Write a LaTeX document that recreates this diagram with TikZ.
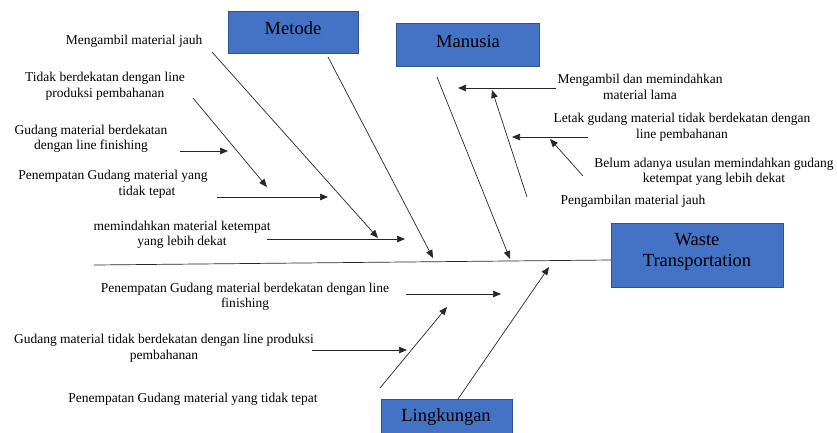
\documentclass[tikz,border=0pt]{standalone}
\usepackage{fontspec}
\setmainfont{Liberation Serif}
\usetikzlibrary{arrows.meta}
\definecolor{boxfill}{HTML}{4472C4}
\definecolor{boxline}{HTML}{2F528F}
\begin{document}
\begin{tikzpicture}[x=1pt,y=-1pt,
  cat/.style={draw=boxline,line width=1pt,fill=boxfill,anchor=north west,inner sep=0pt},
  cattext/.style={font=\fontsize{18.5}{21}\selectfont,align=center,inner sep=0pt},
  lbl/.style={font=\fontsize{13.5}{15.5}\selectfont,align=center,inner sep=0pt},
  arr/.style={line width=0.7pt,draw=black!85,-{Triangle[length=8pt,width=6.5pt]}},
  ln/.style={line width=0.7pt,draw=black!85}]
\useasboundingbox (0,0) rectangle (837,432);
\clip (0,0) rectangle (837,432);
% category boxes
\node[cat,minimum width=130pt,minimum height=42pt] (metode) at (228,11) {};
\node[cattext] (metodeT) at (293,28) {Metode};
\node[cat,minimum width=143pt,minimum height=43pt] (manusia) at (396,23) {};
\node[cattext] (manusiaT) at (468,41) {Manusia};
\node[cat,minimum width=172pt,minimum height=64pt] (waste) at (611,223) {};
\node[cattext] (wasteT) at (697,252) {Waste\\Transportation};
\node[cat,minimum width=131pt,minimum height=50pt] (lingk) at (381,399) {};
\node[cattext] (lingkT) at (446,417) {Lingkungan};
% labels
\node[lbl] (L1) at (134,41) {Mengambil material jauh};
\node[lbl] (L2) at (105,86) {Tidak berdekatan dengan line\\produksi pembahanan};
\node[lbl] (L3) at (91,139) {Gudang material berdekatan\\dengan line finishing};
\node[lbl] (L4) at (113,184) {Penempatan Gudang material yang\\\hspace*{68pt}tidak tepat};
\node[lbl] (L5) at (182,235) {memindahkan material ketempat\\yang lebih dekat};
\node[lbl] (L6) at (245,297) {Penempatan Gudang material berdekatan dengan line\\finishing};
\node[lbl] (L7) at (164,348) {Gudang material tidak berdekatan dengan line produksi\\pembahanan};
\node[lbl] (L8) at (193,399) {Penempatan Gudang material yang tidak tepat};
\node[lbl] (R1) at (640,87) {Mengambil dan memindahkan\\material lama};
\node[lbl] (R2) at (682,127) {Letak gudang material tidak berdekatan dengan\\line pembahanan};
\node[lbl] (R3) at (714,172) {Belum adanya usulan memindahkan gudang\\ketempat yang lebih dekat};
\node[lbl] (R4) at (633,201) {Pengambilan material jauh};
% coordinates
\coordinate (spS) at (94,265);
\coordinate (spE) at (611,260);
\coordinate (a1s) at (212,52);  \coordinate (a1e) at (378,238);
\coordinate (a2s) at (193,98);  \coordinate (a2e) at (267,187);
\coordinate (a3s) at (180,151); \coordinate (a3e) at (228,151);
\coordinate (a4s) at (217,197); \coordinate (a4e) at (328,197);
\coordinate (a5s) at (267,239); \coordinate (a5e) at (405,239);
\coordinate (mts) at (328,57);  \coordinate (mte) at (433,258);
\coordinate (mns) at (437,77);  \coordinate (mne) at (510,259);
\coordinate (r1s) at (556,88);  \coordinate (r1e) at (458,88);
\coordinate (r2s) at (588,137); \coordinate (r2e) at (512,137);
\coordinate (r3s) at (583,176); \coordinate (r3e) at (550,139);
\coordinate (r4s) at (527,197); \coordinate (r4e) at (492,90);
\coordinate (b1s) at (406,294); \coordinate (b1e) at (501,294);
\coordinate (b2s) at (312,350); \coordinate (b2e) at (407,350);
\coordinate (b3s) at (380,388); \coordinate (b3e) at (447,307);
\coordinate (lks) at (458,399); \coordinate (lke) at (549,267);
% connectors
\draw[ln] (spS) -- (spE);
\draw[arr] (a1s) -- (a1e);
\draw[arr] (a2s) -- (a2e);
\draw[arr] (a3s) -- (a3e);
\draw[arr] (a4s) -- (a4e);
\draw[arr] (a5s) -- (a5e);
\draw[arr] (mts) -- (mte);
\draw[arr] (mns) -- (mne);
\draw[arr] (r1s) -- (r1e);
\draw[arr] (r2s) -- (r2e);
\draw[arr] (r3s) -- (r3e);
\draw[arr] (r4s) -- (r4e);
\draw[arr] (b1s) -- (b1e);
\draw[arr] (b2s) -- (b2e);
\draw[arr] (b3s) -- (b3e);
\draw[arr] (lks) -- (lke);
\end{tikzpicture}
\end{document}
